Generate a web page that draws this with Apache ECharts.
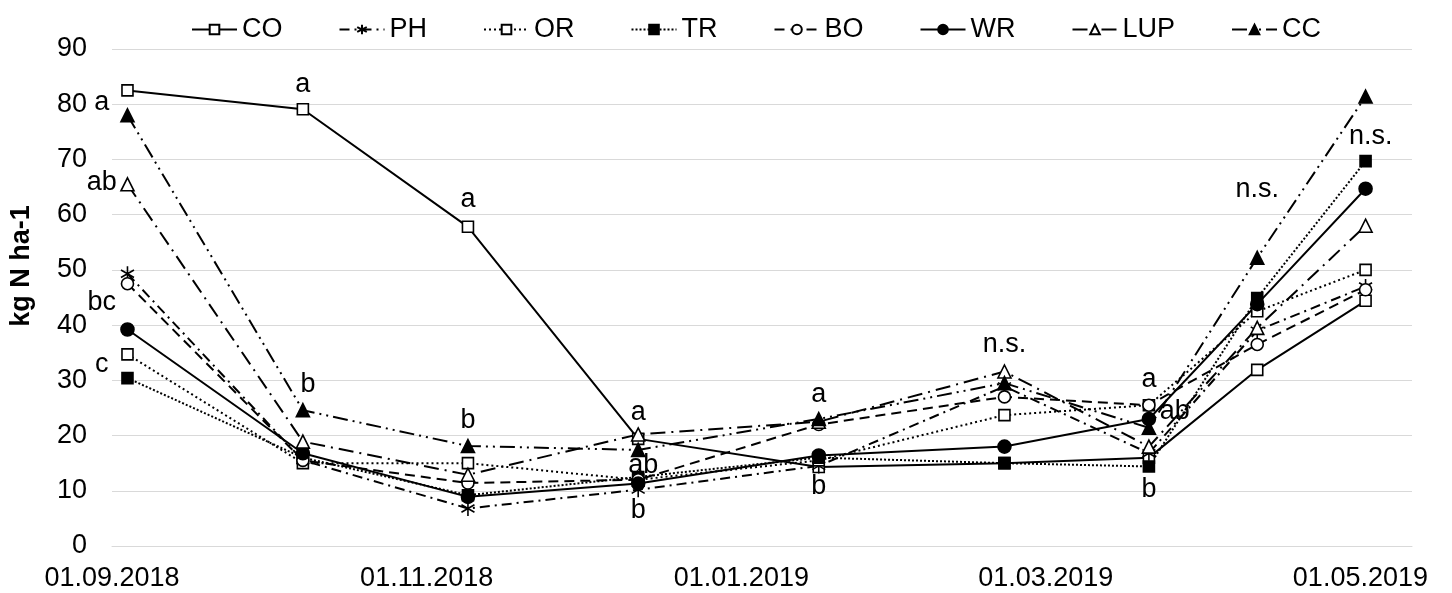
<!DOCTYPE html>
<html>
<head>
<meta charset="utf-8">
<script src="https://cdn.jsdelivr.net/npm/echarts@6/dist/echarts.min.js"></script>
<style>
  html, body { margin: 0; padding: 0; background: #fff; }
  #chart { width: 1452px; height: 593px; }
</style>
</head>
<body>
<div id="chart"></div>
<script>
// sampling dates
const dates = ['2018-09-04', '2018-10-08', '2018-11-09', '2018-12-12', '2019-01-16',
               '2019-02-21', '2019-03-21', '2019-04-11', '2019-05-02'];

// kg N ha-1 per treatment
const CO  = [82.5, 79.1, 57.8, 19.4, 14.3, 15.0, 16.0, 31.9, 44.4];
const PH  = [49.3, 15.5,  6.8, 10.2, 14.5, 28.9, 16.8, 39.0, 47.0];
const OR  = [34.7, 15.0, 15.0, 12.0, 15.5, 23.7, 25.5, 42.5, 50.0];
const TR  = [30.4, 16.0,  9.2, 12.5, 16.0, 15.0, 14.4, 44.9, 69.7];
const BO  = [47.5, 15.5, 11.4, 12.0, 22.0, 27.0, 25.5, 36.5, 46.4];
const WR  = [39.2, 16.8,  8.9, 11.3, 16.4, 18.0, 23.0, 43.8, 64.7];
const LUP = [65.5, 18.9, 12.9, 20.2, 22.5, 31.6, 18.0, 39.5, 58.0];
const CC  = [78.0, 24.6, 18.1, 17.4, 23.0, 29.5, 21.4, 52.2, 81.4];

// x axis range and labels
const axisStart = '2018-09-01';
const axisEnd = '2019-05-11';
const tickDates = ['2018-09-01', '2018-11-01', '2019-01-01', '2019-03-01', '2019-05-01'];

// significance letters
const noteTexts  = ['a', 'ab', 'bc', 'c', 'a', 'b', 'a', 'b', 'a', 'ab', 'b',
                    'a', 'b', 'n.s.', 'a', 'ab', 'b', 'n.s.', 'n.s.'];
const noteDates  = ['2018-08-30', '2018-08-30', '2018-08-30', '2018-08-30', '2018-10-08', '2018-10-09',
                    '2018-11-09', '2018-11-09', '2018-12-12', '2018-12-13', '2018-12-12',
                    '2019-01-16', '2019-01-16', '2019-02-21', '2019-03-21', '2019-03-26', '2019-03-21',
                    '2019-04-11', '2019-05-03'];
const noteValues = [80.3, 65.9, 44.0, 32.8, 83.5, 29.3, 62.7, 22.8, 24.1, 14.5, 6.5,
                    27.4, 10.7, 36.4, 30.1, 24.3, 10.3, 64.5, 74.1];

const FONT = 'Liberation Sans, Arial, sans-serif';
const asterisk = 'path://M0,0L0,12M-5.2,3L5.2,9M-5.2,9L5.2,3';
const DAY = 86400000;

// days since axisStart (UTC, so no DST drift)
function toDay(s) {
  const p = s.split('-');
  const a = axisStart.split('-');
  return Math.round((Date.UTC(+p[0], +p[1] - 1, +p[2]) - Date.UTC(+a[0], +a[1] - 1, +a[2])) / DAY);
}
function pad(n) { return n < 10 ? '0' + n : '' + n; }
function dayLabel(v) {
  const a = axisStart.split('-');
  const d = new Date(Date.UTC(+a[0], +a[1] - 1, +a[2]) + Math.round(v) * DAY);
  return pad(d.getUTCDate()) + '.' + pad(d.getUTCMonth() + 1) + '.' + d.getUTCFullYear();
}

const treatments = [
  { name: 'CO',  data: CO,  dash: 'solid',              symbol: 'rect',     fill: '#fff', size: 11 },
  { name: 'PH',  data: PH,  dash: [10, 5, 2, 5],        symbol: asterisk,   fill: '#000', size: 15 },
  { name: 'OR',  data: OR,  dash: [2, 3],               symbol: 'rect',     fill: '#fff', size: 11 },
  { name: 'TR',  data: TR,  dash: [2, 2],               symbol: 'rect',     fill: '#000', size: 11 },
  { name: 'BO',  data: BO,  dash: [10, 6],              symbol: 'circle',   fill: '#fff', size: 12 },
  { name: 'WR',  data: WR,  dash: 'solid',              symbol: 'circle',   fill: '#000', size: 13 },
  { name: 'LUP', data: LUP, dash: [15, 6, 2, 6],        symbol: 'triangle', fill: '#fff', size: 13 },
  { name: 'CC',  data: CC,  dash: [15, 5, 2, 5, 2, 5],  symbol: 'triangle', fill: '#000', size: 13 }
];

const series = treatments.map(t => ({
  name: t.name,
  type: 'line',
  data: dates.map((d, i) => [toDay(d), t.data[i]]),
  symbol: t.symbol,
  symbolSize: t.size,
  symbolKeepAspect: true,
  showAllSymbol: true,
  lineStyle: { color: '#000', width: 2, type: t.dash },
  itemStyle: { color: t.fill, borderColor: '#000', borderWidth: 1.6, opacity: 1 },
  emphasis: { disabled: true },
  z: 3
}));

series.push({
  name: 'notes',
  type: 'scatter',
  data: noteDates.map((d, i) => ({ value: [toDay(d), noteValues[i]], name: noteTexts[i] })),
  symbolSize: 1,
  itemStyle: { color: 'rgba(0,0,0,0)', opacity: 1 },
  clip: false,
  silent: true,
  emphasis: { disabled: true },
  label: {
    show: true,
    position: 'inside',
    formatter: '{b}',
    color: '#000',
    fontSize: 27,
    fontFamily: FONT
  },
  z: 5
});

const chart = echarts.init(document.getElementById('chart'));
chart.setOption({
  animation: false,
  backgroundColor: '#fff',
  textStyle: { fontFamily: FONT },
  legend: {
    data: treatments.map(t => t.name),
    left: 186,
    top: 11,
    itemWidth: 45,
    itemHeight: 12,
    itemGap: 56,
    selectedMode: false,
    textStyle: { fontSize: 27, color: '#000', fontFamily: FONT }
  },
  grid: { left: 112, right: 40, top: 49, bottom: 47, containLabel: false },
  xAxis: {
    type: 'value',
    min: 0,
    max: toDay(axisEnd),
    axisLine: { show: true, lineStyle: { color: '#d9d9d9', width: 1 } },
    axisTick: { show: false },
    splitLine: { show: false },
    axisLabel: {
      customValues: tickDates.map(toDay),
      margin: 19,
      fontSize: 27,
      color: '#000',
      fontFamily: FONT,
      formatter: dayLabel
    }
  },
  yAxis: {
    type: 'value',
    min: 0,
    max: 90,
    interval: 10,
    axisLine: { show: false },
    axisTick: { show: false },
    splitLine: { lineStyle: { color: '#d9d9d9', width: 1 } },
    axisLabel: { fontSize: 27, color: '#000', margin: 25, fontFamily: FONT }
  },
  graphic: [{
    type: 'text',
    x: 22,
    y: 266,
    rotation: Math.PI / 2,
    style: {
      text: 'kg N ha-1',
      font: 'bold 27px Liberation Sans, Arial, sans-serif',
      fill: '#000',
      textAlign: 'center',
      textVerticalAlign: 'middle'
    }
  }],
  series: series
});
</script>
</body>
</html>
